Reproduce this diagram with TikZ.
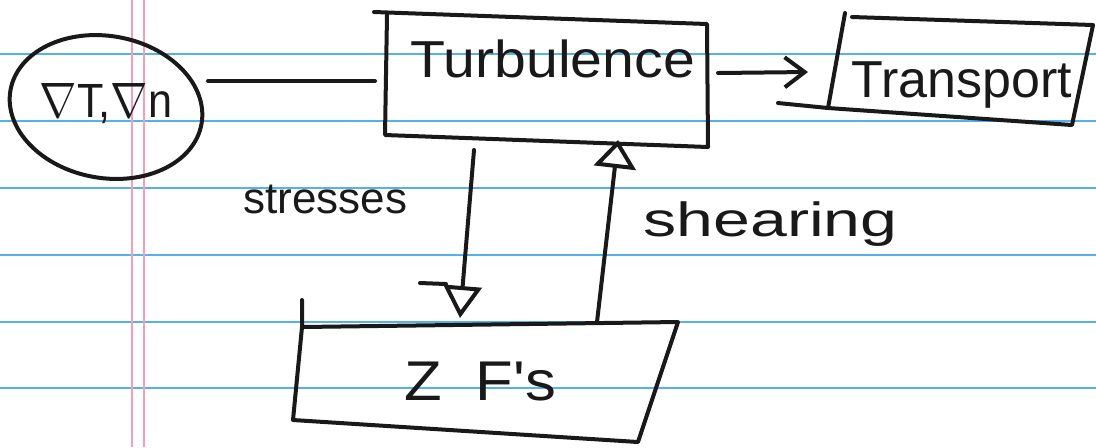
\documentclass[tikz,border=0pt]{standalone}
\usepackage{fontspec}
\setmainfont{Liberation Sans}
\usetikzlibrary{arrows.meta,shapes.geometric}
\definecolor{paperblue}{RGB}{85,178,232}
\definecolor{marginpink}{RGB}{242,160,185}
\definecolor{inkc}{RGB}{25,25,25}
\begin{document}
\begin{tikzpicture}[x=0.5pt,y=-0.5pt,
  ink/.style={line width=2pt, draw=inkc, line cap=round, line join=round},
  ruling/.style={line width=1pt, draw=paperblue},
  margin/.style={line width=0.9pt, draw=marginpink},
  lbl/.style={text=inkc, inner sep=0pt},
]
\useasboundingbox (0,0) rectangle (1096,447);
\fill[white] (0,0) rectangle (1096,447);
% paper
\foreach \yy in {54,121,188,255,322,388} \draw[ruling] (0,\yy) -- (1096,\yy);
\draw[margin] (132,0) -- (132,447);
\draw[margin] (144,0) -- (144,447);

% gradient ellipse
\node[ink, draw, ellipse, rotate=-10, minimum width=97pt, minimum height=71pt, inner sep=0pt] (gradE) at (106,107) {};
\node[lbl, anchor=base, font=\fontsize{24}{24}\selectfont] (grad) at (106,117) {\scalebox{0.9}[1]{$\nabla$T,$\nabla$n}};

% Turbulence box
\coordinate (tA) at (385,12);
\coordinate (tB) at (707,24);
\coordinate (tC) at (708,147);
\coordinate (tD) at (385,135);
\draw[ink] (374,12) -- (tB) -- (tC) -- (tD) -- (387,15);
\node[lbl, anchor=base, font=\fontsize{26}{26}\selectfont] (turb) at (553,77) {\scalebox{1.1}[1]{Turbulence}};

% Transport box
\coordinate (pA) at (845,13);
\coordinate (pB) at (1093,25);
\coordinate (pC) at (1072,125);
\coordinate (pD) at (828,108);
\draw[ink] (852,17) -- (pB) -- (pC) -- (pD) -- (pA);
\draw[ink] (778,103) -- (pD);
\node[lbl, anchor=base, font=\fontsize{26}{26}\selectfont] (trans) at (962,97) {Transport};

% ZF box
\coordinate (zA) at (302,327);
\coordinate (zB) at (678,322);
\coordinate (zC) at (638,442);
\coordinate (zD) at (293,420);
\draw[ink] (302,300) -- (zA) -- (zB) -- (zC) -- (zD) -- (zA);
\node[lbl, anchor=base, font=\fontsize{28}{28}\selectfont] (zf) at (480,400) {\scalebox{1.1}[1]{Z\hspace{0.55em}F\textquotesingle s}};

% connectors
\coordinate (g1) at (208,81);
\coordinate (t1) at (375,81);
\draw[ink] (g1) -- (t1);

\coordinate (t2) at (718,73);
\coordinate (p1) at (808,72);
\draw[ink, -{Straight Barb[length=10pt, width=15pt]}] (t2) -- (p1);

\coordinate (t3) at (474,150);
\coordinate (z1) at (460,318);
\draw[ink, -{Triangle[open, length=16pt, width=19pt]}] (t3) -- (z1);
\draw[ink] (420,283) -- (446,284);

\coordinate (z2) at (597,322);
\coordinate (t4) at (618,140);
\draw[ink, -{Triangle[open, length=14pt, width=21pt]}] (z2) -- (t4);

% labels
\node[lbl, anchor=base west, font=\fontsize{22}{22}\selectfont] (str) at (243,213) {stresses};
\node[lbl, anchor=base west, font=\fontsize{24}{24}\selectfont] (shr) at (643,236) {\scalebox{1.38}[1]{shearing}};
\end{tikzpicture}
\end{document}
